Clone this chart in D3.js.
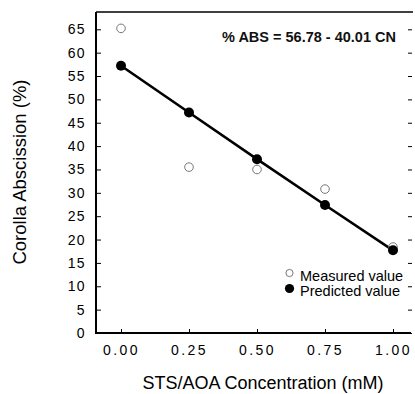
<!DOCTYPE html>
<html>
<head>
<meta charset="utf-8">
<script src="https://cdn.jsdelivr.net/npm/d3@7"></script>
<style>
  body { margin: 0; background: #fff; }
  svg { display: block; font-family: "Liberation Sans", Arial, sans-serif; }
</style>
</head>
<body>
<svg id="chart" width="415" height="394"></svg>
<script>
// values
const concentration = [0.00, 0.25, 0.50, 0.75, 1.00];
const measured = [65.2, 35.5, 35.0, 30.8, 18.4];
const predicted = [57.2, 47.2, 37.2, 27.4, 17.7];
const xTicks = [0, 0.25, 0.5, 0.75, 1];
const yTicks = d3.range(0, 70, 5);

const svg = d3.select("#chart");

const plotLeft = 96, plotRight = 411, plotTop = 12, plotBottom = 333;

const x = d3.scaleLinear().domain([0, 1]).range([121, 393]);
const y = d3.scaleLinear().domain([0, 65]).range([plotBottom, 29.3]);

// frame: left, bottom and top lines (right side only has ticks)
svg.append("line").attr("x1", plotLeft).attr("x2", plotLeft).attr("y1", plotTop).attr("y2", plotBottom + 1)
  .attr("stroke", "#000").attr("stroke-width", 2);
svg.append("line").attr("x1", plotLeft).attr("x2", plotRight).attr("y1", plotBottom).attr("y2", plotBottom)
  .attr("stroke", "#000").attr("stroke-width", 2);
svg.append("line").attr("x1", plotLeft).attr("x2", plotRight + 2).attr("y1", plotTop).attr("y2", plotTop)
  .attr("stroke", "#000").attr("stroke-width", 1.5);

// y axis
const yAxis = d3.axisLeft(y).tickValues(yTicks).tickSize(-5).tickPadding(10).tickFormat(d3.format("d"));
const gy = svg.append("g").attr("transform", `translate(${plotLeft},0)`).call(yAxis);
gy.select(".domain").remove();
gy.selectAll("line").attr("stroke", "#000").attr("stroke-width", 1);
gy.selectAll("text").attr("font-size", 14).attr("letter-spacing", 1.4).attr("fill", "#000")
  .attr("font-family", "Liberation Sans, Arial, sans-serif");

// right side ticks
const yAxisR = d3.axisRight(y).tickValues(yTicks).tickSize(-4).tickFormat("");
const gr = svg.append("g").attr("transform", `translate(${plotRight + 1},0)`).call(yAxisR);
gr.select(".domain").remove();
gr.selectAll("line").attr("stroke", "#000").attr("stroke-width", 1);

// x axis
const xAxis = d3.axisBottom(x).tickValues(xTicks).tickSize(-4).tickPadding(12).tickFormat(d3.format(".2f"));
const gx = svg.append("g").attr("transform", `translate(0,${plotBottom})`).call(xAxis);
gx.select(".domain").remove();
gx.selectAll("line").attr("stroke", "#000").attr("stroke-width", 1);
gx.selectAll("text").attr("font-size", 14).attr("letter-spacing", 2.4).attr("fill", "#000")
  .attr("font-family", "Liberation Sans, Arial, sans-serif");

// axis titles
svg.append("text").attr("x", 263).attr("y", 389).attr("text-anchor", "middle")
  .attr("font-size", 18).text("STS/AOA Concentration (mM)");
svg.append("text").attr("transform", "translate(26,172) rotate(-90)").attr("text-anchor", "middle")
  .attr("font-size", 18.5).text("Corolla Abscission (%)");

// regression line through predicted values
const line = d3.line().x((d, i) => x(concentration[i])).y(d => y(d));
svg.append("path").datum(predicted).attr("d", line)
  .attr("fill", "none").attr("stroke", "#000").attr("stroke-width", 2.6);

// measured (open) points
svg.selectAll("circle.meas").data(measured).enter().append("circle")
  .attr("class", "meas")
  .attr("cx", (d, i) => x(concentration[i])).attr("cy", d => y(d)).attr("r", 4.3)
  .attr("fill", "none").attr("stroke", "#777").attr("stroke-width", 1);

// predicted (filled) points
svg.selectAll("circle.pred").data(predicted).enter().append("circle")
  .attr("class", "pred")
  .attr("cx", (d, i) => x(concentration[i])).attr("cy", d => y(d)).attr("r", 5)
  .attr("fill", "#000");

// equation
svg.append("text").attr("x", 222).attr("y", 42).attr("font-size", 14.5).attr("font-weight", "bold")
  .attr("fill", "#111").text("% ABS = 56.78 - 40.01 CN");

// legend
svg.append("circle").attr("cx", 289.5).attr("cy", 273).attr("r", 3.6)
  .attr("fill", "none").attr("stroke", "#777").attr("stroke-width", 1);
svg.append("text").attr("x", 300).attr("y", 281).attr("font-size", 14.5).text("Measured value");
svg.append("circle").attr("cx", 289.5).attr("cy", 288.5).attr("r", 4.6).attr("fill", "#000");
svg.append("text").attr("x", 300).attr("y", 295.5).attr("font-size", 14.5).text("Predicted value");
</script>
</body>
</html>
